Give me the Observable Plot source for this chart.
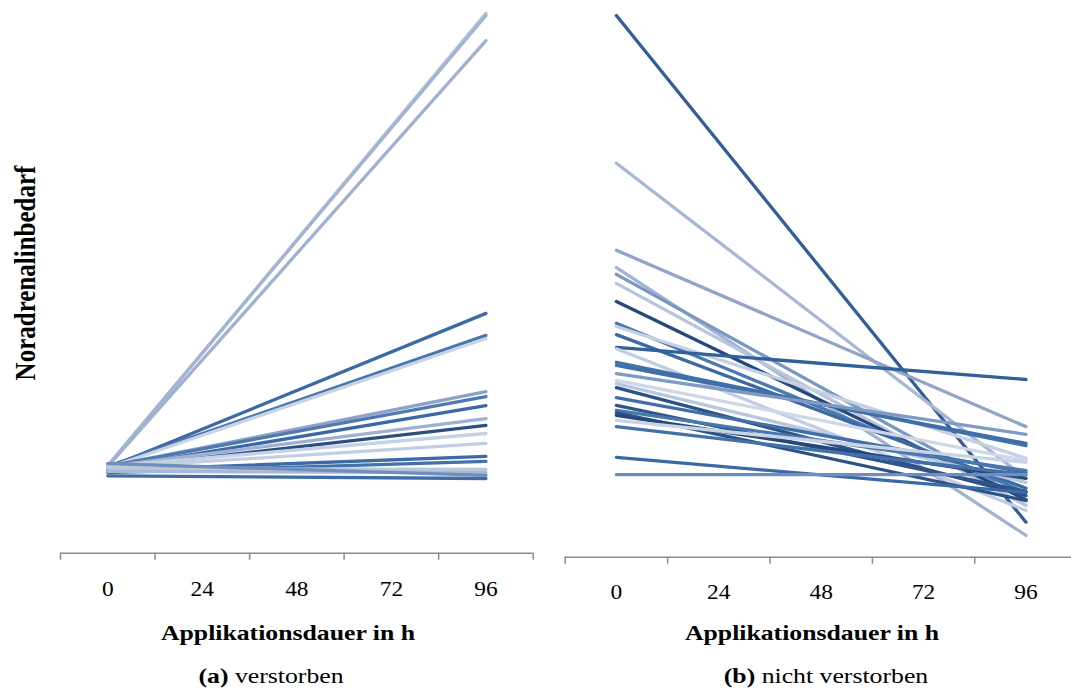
<!DOCTYPE html>
<html>
<head>
<meta charset="utf-8">
<script src="https://cdn.jsdelivr.net/npm/d3@7"></script>
<script src="https://cdn.jsdelivr.net/npm/@observablehq/plot@0.6"></script>
<style>
  html, body { margin: 0; padding: 0; background: #fff; overflow: hidden; }
  #chart { position: relative; width: 1071px; height: 691px; overflow: hidden; font-family: "Liberation Serif", "Times New Roman", serif; color: #000; }
  .panel { position: absolute; top: 0; }
  .txt { position: absolute; white-space: nowrap; line-height: 1; }
</style>
</head>
<body>
<div id="chart"></div>
<script>
// Applikationsdauer (h) and the labels shown on the category axis
const hours = [0, 24, 48, 72, 96];
const tickLabels = ["0", "24", "48", "72", "96"];
// boundaries between the categories, where the tick marks sit
const bounds = [-12, 12, 36, 60, 84, 108];

// (a) verstorben: Noradrenalinbedarf at 0 h and at 96 h
const verstorben0  = [0.193, 0.195, 0.193, 0.190, 0.193, 0.190, 0.193, 0.193, 0.188, 0.193, 0.188, 0.193, 0.190, 0.184, 0.179, 0.188, 0.182, 0.172, 0.199];
const verstorben96 = [1.200, 1.195, 1.139, 0.533, 0.484, 0.477, 0.359, 0.348, 0.328, 0.299, 0.284, 0.266, 0.244, 0.215, 0.204, 0.186, 0.179, 0.166, 0.173];
const verstorbenFarbe = ["#b7c5de", "#a3b4d2", "#a0b2d0", "#3c6aa4", "#4a76ac", "#c8d4e6", "#8da2c8", "#4f7ab0", "#3a69a5", "#9fb1d0", "#2a4f80", "#c5d1e4", "#c2cfe3", "#3b6aa6", "#4371aa", "#b8c6de", "#a8b8d6", "#3e6ca6", "#6e8ebc"];

// (b) nicht verstorben: Noradrenalinbedarf at 0 h and at 96 h
const nichtVerstorben0  = [1.195, 0.869, 0.677, 0.639, 0.624, 0.604, 0.564, 0.516, 0.509, 0.491, 0.463, 0.460, 0.430, 0.423, 0.405, 0.390, 0.383, 0.374, 0.352, 0.335, 0.324, 0.319, 0.313, 0.302, 0.288, 0.220, 0.182];
const nichtVerstorben96 = [0.077, 0.174, 0.288, 0.048, 0.125, 0.114, 0.127, 0.143, 0.218, 0.152, 0.392, 0.103, 0.246, 0.251, 0.271, 0.213, 0.165, 0.136, 0.187, 0.145, 0.191, 0.125, 0.174, 0.209, 0.182, 0.143, 0.182];
const nichtVerstorbenFarbe = ["#335e97", "#a7b7d4", "#90a5c9", "#a3b4d2", "#7a97c2", "#b7c5de", "#24497a", "#4a78b0", "#c4d0e4", "#3b69a3", "#31609a", "#c0cde2", "#4371aa", "#3f6ea8", "#7f9bc4", "#cdd7e8", "#b9c7df", "#2c5287", "#3f6ea8", "#2e5589", "#4a77ae", "#2c5287", "#26497a", "#c8d4e6", "#4371aa", "#3b69a3", "#6e8ebc"];

const STRETCH = 1.17;
const chart = document.getElementById("chart");

function panel({start, end, colors, left, width, marginLeft, marginRight, marginBottom, pad}) {
  const rows = start.flatMap((v, i) => [
    {id: i, t: hours[0], v, c: colors[i]},
    {id: i, t: hours[hours.length - 1], v: end[i], c: colors[i]}
  ]);
  const svg = Plot.plot({
    width,
    height: 600,
    marginTop: 12.7,
    marginBottom,
    marginLeft,
    marginRight,
    x: {domain: [bounds[0], bounds[bounds.length - 1]]},
    y: {domain: [0, 1.2], axis: null},
    style: {fontFamily: "Liberation Serif", fontSize: "20px", color: "#000", background: "transparent", overflow: "visible"},
    marks: [
      Plot.line(rows, {x: "t", y: "v", z: "id", stroke: "c", strokeWidth: 3.3, strokeLinecap: "round"}),
      Plot.ruleY([0], {stroke: "#8c8c8c", strokeWidth: 1.5}),
      Plot.axisX(bounds, {tickSize: 7, stroke: "#8c8c8c", strokeWidth: 1.5, strokeOpacity: 1, tickFormat: () => "", label: null}),
      Plot.axisX(hours, {tickSize: 0, tickPadding: pad, tickFormat: d => tickLabels[hours.indexOf(d)], label: null, fill: "#000"})
    ]
  });
  svg.classList.add("panel");
  svg.style.left = left + "px";
  // widen the serif tick labels to the proportions of the rest of the figure
  svg.querySelectorAll('g[aria-label="x-axis tick label"] text').forEach(t => {
    const tr = t.getAttribute("transform") || "";
    t.setAttribute("transform", tr + ` scale(${STRETCH},1)`);
  });
  chart.appendChild(svg);
}

panel({start: verstorben0, end: verstorben96, colors: verstorbenFarbe,
       left: 0, width: 540, marginLeft: 60, marginRight: 7.3, marginBottom: 47.3, pad: 29});
panel({start: nichtVerstorben0, end: nichtVerstorben96, colors: nichtVerstorbenFarbe,
       left: 520, width: 560, marginLeft: 44.7, marginRight: 3.3, marginBottom: 43.3, pad: 28});

function label(html, x, y, size, weight, rotate) {
  const d = document.createElement("div");
  d.className = "txt";
  d.innerHTML = html;
  d.style.left = x + "px";
  d.style.top = y + "px";
  d.style.fontSize = size + "px";
  d.style.fontWeight = weight;
  d.style.transform = `translate(-50%,-50%) scaleX(${STRETCH})` + (rotate ? " rotate(-90deg)" : "");
  chart.appendChild(d);
}

label("Noradrenalinbedarf", 25, 273, 25, "bold", true);
label("Applikationsdauer in h", 288, 633, 22, "bold");
label("Applikationsdauer in h", 812, 633, 22, "bold");
label("<b>(a)</b> verstorben", 271, 676, 22, "normal");
label("<b>(b)</b> nicht verstorben", 826, 676, 22, "normal");
</script>
</body>
</html>
